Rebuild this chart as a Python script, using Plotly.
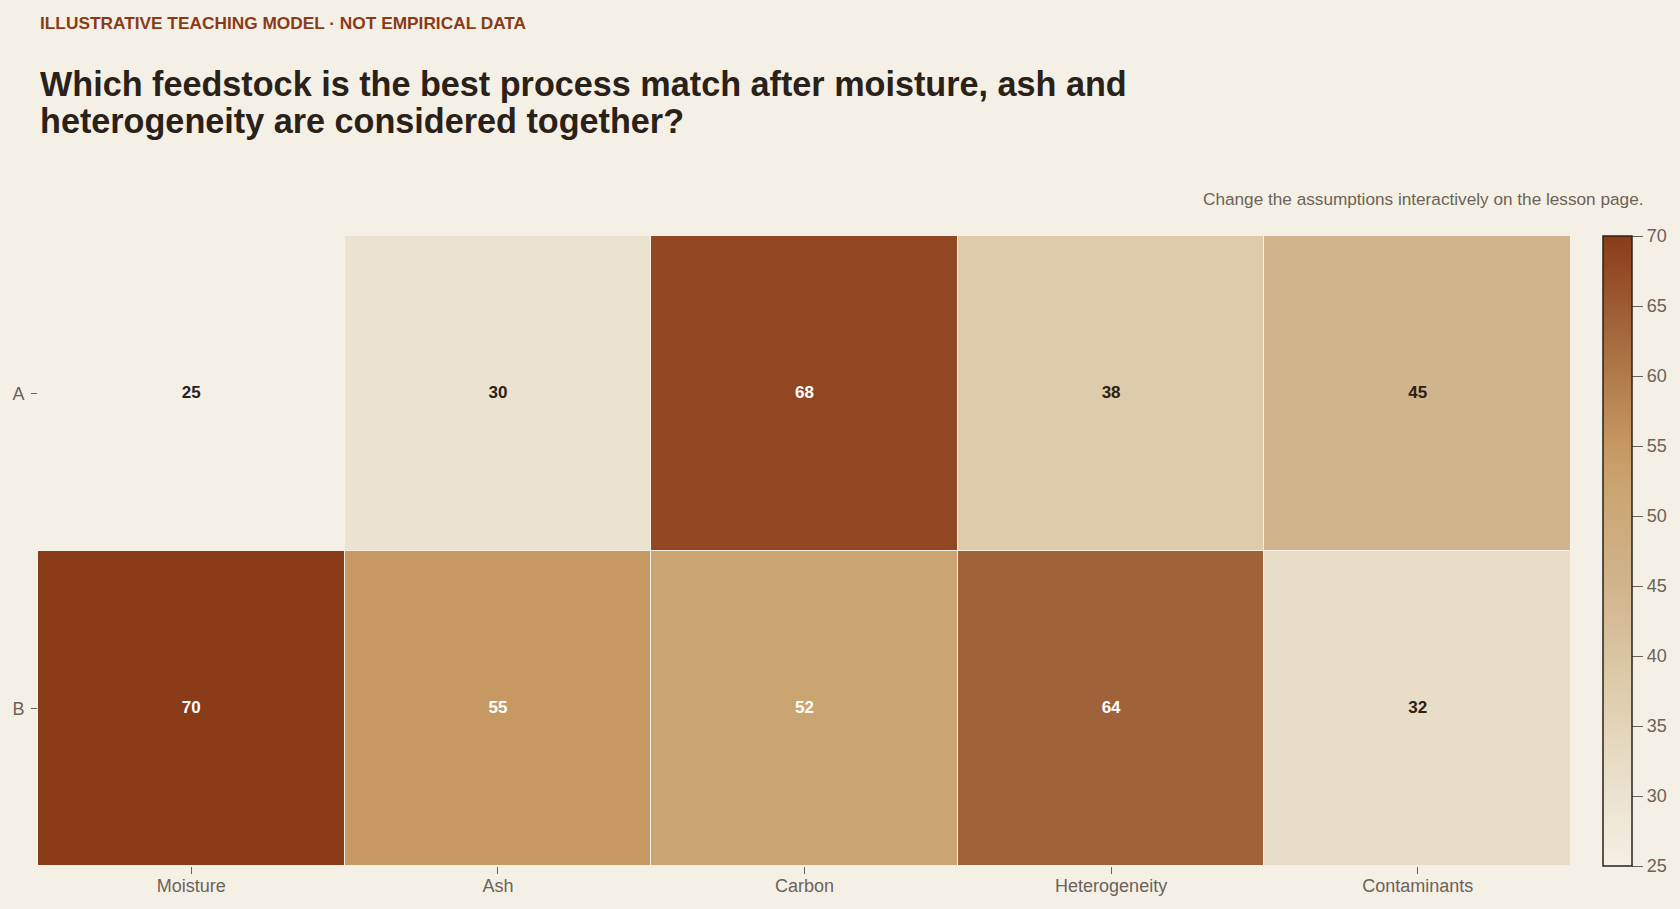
import plotly.graph_objects as go

# ---- data ----
criteria = ["Moisture", "Ash", "Carbon", "Heterogeneity", "Contaminants"]
feedstocks = ["A", "B"]
scores_a = [25, 30, 68, 38, 45]
scores_b = [70, 55, 52, 64, 32]
colorbar_ticks = [25, 30, 35, 40, 45, 50, 55, 60, 65, 70]

kicker = "ILLUSTRATIVE TEACHING MODEL · NOT EMPIRICAL DATA"
title_lines = ["Which feedstock is the best process match after moisture, ash and",
               "heterogeneity are considered together?"]
note = "Change the assumptions interactively on the lesson page."

# ---- styling ----
BG = "#f5f0e6"
INK = "#2a2118"
MUTED = "#6b6359"
RUST = "#8b3a18"
FONT = "Liberation Sans, Arial, sans-serif"

W, H = 1680, 909
ML, MR, MT, MB = 38, 109, 236, 43
PW = W - ML - MR
PH = H - MT - MB


def px(x):
    return (x - ML) / PW


def py(y):
    return (H - MB - y) / PH


colorscale = [
    [0.000, "#f5f0e5"],
    [0.111, "#ebe3d0"],
    [0.156, "#e8ddc6"],
    [0.289, "#ddcbab"],
    [0.444, "#d1b48c"],
    [0.600, "#caa571"],
    [0.667, "#c69862"],
    [0.867, "#a06238"],
    [0.956, "#924723"],
    [1.000, "#8a3c19"],
]

z = [scores_a, scores_b]
zmin, zmax = 25, 70

fig = go.Figure()
fig.add_trace(go.Heatmap(
    z=z, x=criteria, y=feedstocks,
    zmin=zmin, zmax=zmax, colorscale=colorscale,
    xgap=1, ygap=1,
    hovertemplate="%{y} · %{x}: %{z}<extra></extra>",
    colorbar=dict(
        x=px(1603), xanchor="left", xpad=0,
        y=0.5, yanchor="middle", len=1, lenmode="fraction", ypad=0,
        thickness=29, outlinewidth=1.5, outlinecolor=INK,
        tickvals=colorbar_ticks, ticks="outside", ticklen=11,
        tickcolor=MUTED, tickfont=dict(family=FONT, size=18, color=MUTED),
    ),
))

# cell labels
tx, ty, tt, tc = [], [], [], []
for fs, row in zip(feedstocks, z):
    for c, v in zip(criteria, row):
        tx.append(c)
        ty.append(fs)
        tt.append(str(v))
        tc.append("#ffffff" if v >= 50 else INK)
fig.add_trace(go.Scatter(
    x=tx, y=ty, text=tt, mode="text",
    textfont=dict(family=FONT, size=17, color=tc, weight="bold"),
    hoverinfo="skip", showlegend=False,
))

annotations = [
    dict(text=kicker, xref="paper", yref="paper", x=0, y=py(22.5),
         xanchor="left", yanchor="middle", showarrow=False,
         font=dict(family=FONT, size=17.3, color=RUST, weight="bold")),
    dict(text=note, xref="paper", yref="paper", x=px(1645),
         y=py(198.5), xanchor="right", yanchor="middle",
         showarrow=False, font=dict(family=FONT, size=17.2, color=MUTED)),
]
for line, ypix in zip(title_lines, [84, 121]):
    annotations.append(dict(
        text=line, xref="paper", yref="paper", x=0, y=py(ypix),
        xanchor="left", yanchor="middle", showarrow=False,
        font=dict(family=FONT, size=34.2, color=INK, weight="bold")))

fig.update_layout(
    width=W, height=H,
    paper_bgcolor=BG, plot_bgcolor=BG,
    margin=dict(l=ML, r=MR, t=MT, b=MB),
    font=dict(family=FONT, color=MUTED),
    showlegend=False,
    xaxis=dict(
        showgrid=False, zeroline=False, showline=False, automargin=False,
        ticks="outside", ticklen=7, tickcolor=MUTED, ticklabelstandoff=-4,
        tickfont=dict(family=FONT, size=18, color=MUTED),
    ),
    yaxis=dict(
        showgrid=False, zeroline=False, showline=False, automargin=False,
        autorange="reversed", ticklabelstandoff=3,
        ticks="outside", ticklen=6, tickcolor=MUTED,
        tickfont=dict(family=FONT, size=18, color=MUTED),
    ),
    annotations=annotations,
)

fig.write_html(
    "out.html",
    config={"displayModeBar": False},
    post_script="document.body.style.margin='0';"
                "document.body.style.background='" + BG + "';"
                "document.documentElement.style.overflow='hidden';",
)
